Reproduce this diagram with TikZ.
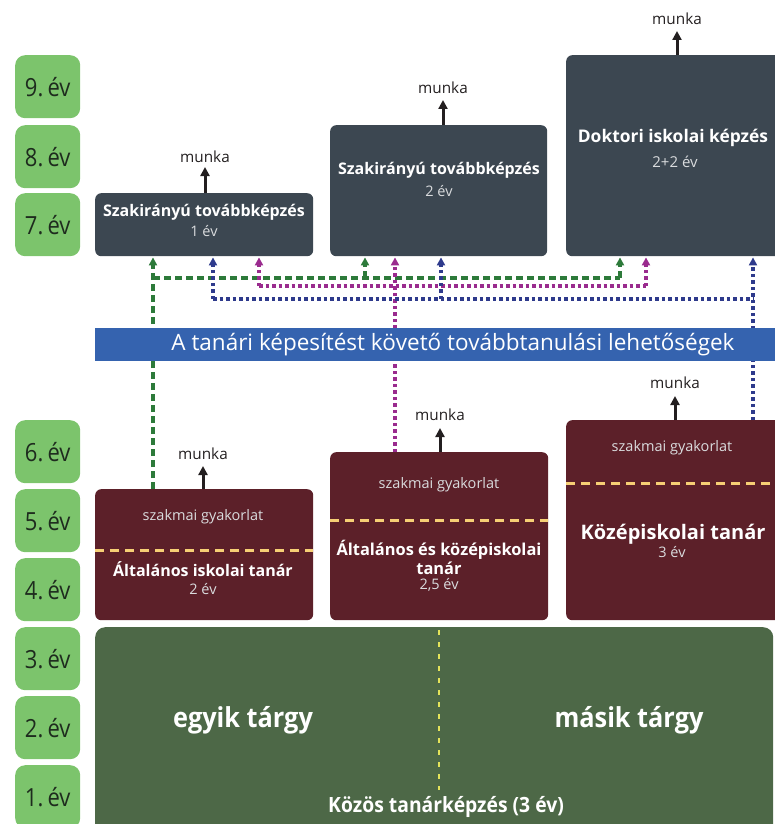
\documentclass[tikz,border=0pt]{standalone}
\usepackage{fontspec}
\setmainfont{Open Sans}
\newfontfamily\condfont[FakeStretch=0.88]{Open Sans}
\newfontfamily\semicond[FakeStretch=0.92]{Open Sans}
\usetikzlibrary{arrows.meta}
\definecolor{yeargreen}{HTML}{7CC46C}
\definecolor{yeartxt}{HTML}{1E2B1E}
\definecolor{biggreen}{HTML}{4D6847}
\definecolor{maroon}{HTML}{5C2029}
\definecolor{darkbox}{HTML}{3C4751}
\definecolor{bannerblue}{HTML}{3563AF}
\definecolor{ydash}{HTML}{F6CF75}
\definecolor{gdash}{HTML}{E4E35A}
\definecolor{cgreen}{HTML}{2D7A3A}
\definecolor{cmag}{HTML}{9A2B8E}
\definecolor{cblue}{HTML}{2E3A8C}
\definecolor{ink}{HTML}{231F20}
\definecolor{softwhite}{HTML}{DADCDE}
\begin{document}
\begin{tikzpicture}[x=1pt,y=-1pt,
  yearbox/.style={fill=yeargreen, rounded corners=10pt, minimum width=65pt, minimum height=63pt, anchor=north west, inner sep=0pt, text=yeartxt, font=\condfont\fontsize{25}{25}\selectfont},
  darkbx/.style={fill=darkbox, rounded corners=6pt, anchor=north west, inner sep=0pt},
  maroonbx/.style={fill=maroon, rounded corners=6pt, anchor=north west, inner sep=0pt},
  ttl/.style={text=white, font=\bfseries\fontsize{16}{16}\selectfont, inner sep=0pt},
  sub/.style={text=softwhite, font=\fontsize{14.5}{14.5}\selectfont, inner sep=0pt},
  munkalbl/.style={text=ink, font=\fontsize{15.3}{15.3}\selectfont, inner sep=0pt},
  workarrow/.style={draw=ink, line width=3pt, -{Triangle[length=9pt,width=9pt]}},
  splitline/.style={draw=ydash, line width=3pt, dash pattern=on 9pt off 6pt},
  gconn/.style={draw=cgreen, line width=3.4pt, dash pattern=on 7pt off 4pt, -{Triangle[length=8pt,width=8pt]}},
  mconn/.style={draw=cmag, line width=3.4pt, dash pattern=on 3.5pt off 3pt, -{Triangle[length=8pt,width=8pt]}},
  bconn/.style={draw=cblue, line width=3.4pt, dash pattern=on 3.5pt off 3pt, -{Triangle[length=8pt,width=8pt]}},
  gline/.style={draw=cgreen, line width=3.4pt, dash pattern=on 7pt off 4pt},
  mline/.style={draw=cmag, line width=3.4pt, dash pattern=on 3.5pt off 3pt},
  bline/.style={draw=cblue, line width=3.4pt, dash pattern=on 3.5pt off 3pt}
]
\useasboundingbox (0,0) rectangle (775,824);
\begin{scope}
\clip (0,0) rectangle (775,824);
% year boxes
\node[yearbox] (y9) at (15,55) {9.\,év};
\node[yearbox] (y8) at (15,125) {8.\,év};
\node[yearbox] (y7) at (15,193) {7.\,év};
\node[yearbox] (y6) at (15,420) {6.\,év};
\node[yearbox] (y5) at (15,489) {5.\,év};
\node[yearbox] (y4) at (15,558) {4.\,év};
\node[yearbox] (y3) at (15,627) {3.\,év};
\node[yearbox] (y2) at (15,696) {2.\,év};
\node[yearbox] (y1) at (15,765) {1.\,év};

% upper boxes
\node[darkbx, minimum width=218pt, minimum height=63pt] (d1) at (95,193) {};
\node[darkbx, minimum width=217pt, minimum height=131pt] (d2) at (330,125) {};
\node[darkbx, minimum width=216pt, minimum height=201pt] (d3) at (566,55) {};

% lower boxes
\node[maroonbx, minimum width=218pt, minimum height=131pt] (ba) at (95,489) {};
\node[maroonbx, minimum width=218pt, minimum height=168pt] (bb) at (330,452) {};
\node[maroonbx, minimum width=216pt, minimum height=200pt] (bc) at (566,420) {};

% big green box
\node[fill=biggreen, rounded corners=10pt, anchor=north west, inner sep=0pt, minimum width=678pt, minimum height=210pt] (base) at (95,627) {};

% coordinates for connector columns
\coordinate (gA) at (153,278);
\coordinate (gB) at (365,278);
\coordinate (gC) at (620,278);
\coordinate (mA) at (259,286);
\coordinate (mB) at (395,286);
\coordinate (mC) at (646,286);
\coordinate (bA) at (213,299);
\coordinate (bB) at (441,299);
\coordinate (bC) at (753,299);

% green connectors
\draw[gconn] (ba.north -| gA) -- ([yshift=-1pt]d1.south -| gA);
\draw[gline] (gA) -- (gC);
\draw[gconn] (gB) -- ([yshift=-1pt]d2.south -| gB);
\draw[gconn] (gC) -- ([yshift=-1pt]d3.south -| gC);
% magenta connectors
\draw[mconn] (bb.north -| mB) -- ([yshift=-1pt]d2.south -| mB);
\draw[mline] (mA) -- (mC);
\draw[mconn] (mA) -- ([yshift=-1pt]d1.south -| mA);
\draw[mconn] (mC) -- ([yshift=-1pt]d3.south -| mC);
% blue connectors
\draw[bconn] (bc.north -| bC) -- ([yshift=-1pt]d3.south -| bC);
\draw[bline] (bA) -- (bC);
\draw[bconn] (bA) -- ([yshift=-1pt]d1.south -| bA);
\draw[bconn] (bB) -- ([yshift=-1pt]d2.south -| bB);

% banner
\node[fill=bannerblue, anchor=north west, inner sep=0pt, minimum width=685pt, minimum height=33pt] (banner) at (95,328) {};
\node[text=white, font=\fontsize{22.5}{22.5}\selectfont, inner sep=0pt] (bannertxt) at (453,345) {A tanári képesítést követő továbbtanulási lehetőségek};

% texts in upper boxes
\node[ttl] (d1t) at (204,212) {Szakirányú továbbképzés};
\node[sub] (d1s) at (204,231) {1 év};
\node[ttl] (d2t) at (439,170) {Szakirányú továbbképzés};
\node[sub] (d2s) at (439,191) {2 év};
\node[ttl, font=\bfseries\fontsize{17.4}{17.4}\selectfont] (d3t) at (673,138) {Doktori iskolai képzés};
\node[sub, font=\fontsize{15}{15}\selectfont] (d3s) at (675,162) {2+2 év};

% munka arrows (upper)
\node[munkalbl] (m1) at (205,157) {munka};
\draw[workarrow] (d1.north -| m1) -- ++(0,-26);
\node[munkalbl] (m2) at (443,88) {munka};
\draw[workarrow] (d2.north -| m2) -- ++(0,-25);
\node[munkalbl] (m3) at (677,19) {munka};
\draw[workarrow] (d3.north -| m3) -- ++(0,-24);

% lower boxes contents
\node[sub] (pa) at (203,517) {szakmai gyakorlat};
\draw[splitline] (95,550) -- (313,550);
\node[ttl] (ta) at (203,569) {Általános iskolai tanár};
\node[sub] (sa) at (203,589) {2 év};

\node[sub] (pb) at (439,485) {szakmai gyakorlat};
\draw[splitline] (330,520) -- (548,520);
\node[ttl, font=\bfseries\fontsize{16.4}{16.4}\selectfont] (tb1) at (439,550) {Általános és középiskolai};
\node[ttl, font=\bfseries\fontsize{16.4}{16.4}\selectfont] (tb2) at (439,568) {tanár};
\node[sub] (sb) at (439,585) {2,5 év};

\node[sub] (pc) at (672,448) {szakmai gyakorlat};
\draw[splitline] (566,483) -- (776,483);
\node[ttl, font=\bfseries\fontsize{20}{20}\selectfont] (tc) at (673,534) {Középiskolai tanár};
\node[sub] (sc) at (672,552) {3 év};

% munka arrows (lower)
\node[munkalbl] (m4) at (203,454) {munka};
\draw[workarrow] (ba.north -| m4) -- ++(0,-23);
\node[munkalbl] (m5) at (440,415) {munka};
\draw[workarrow] (bb.north -| m5) -- ++(0,-24);
\node[munkalbl] (m6) at (675,383) {munka};
\draw[workarrow] (bc.north -| m6) -- ++(0,-24);

% green base contents
\draw[draw=gdash, line width=2.4pt, dash pattern=on 5pt off 7pt] (439,630) -- (439,790);
\node[text=white, font=\semicond\bfseries\fontsize{27.5}{27.5}\selectfont, inner sep=0pt] (egy) at (243,720) {egyik tárgy};
\node[text=white, font=\semicond\bfseries\fontsize{27.5}{27.5}\selectfont, inner sep=0pt] (mas) at (629,720) {másik tárgy};
\node[text=white, font=\semicond\bfseries\fontsize{21}{21}\selectfont, inner sep=0pt] (kozos) at (446,807) {Közös tanárképzés (3 év)};
\end{scope}
\end{tikzpicture}
\end{document}
